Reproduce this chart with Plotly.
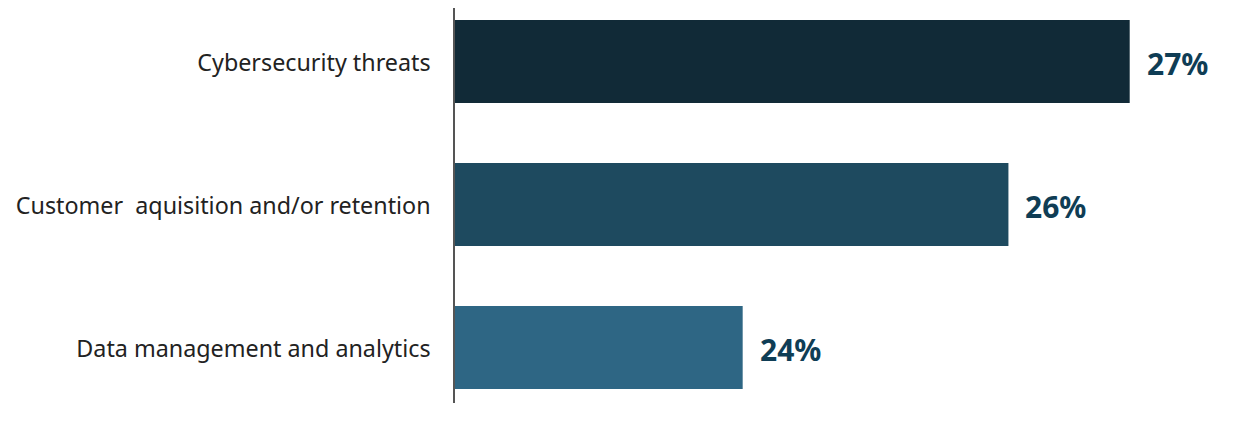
import plotly.graph_objects as go

# datos
categories = ["Cybersecurity threats",
              "Customer  aquisition and/or retention",
              "Data management and analytics"]
values = [27, 26.06, 24]
labels = ["27%", "26%", "24%"]
colors = ["#112a37", "#1e4a5f", "#2e6684"]

fig = go.Figure(go.Bar(
    x=values,
    y=categories,
    orientation="h",
    marker=dict(color=colors, line=dict(width=0)),
    hoverinfo="skip"))

# etiquetas de valor
for v, c, t in zip(values, categories, labels):
    fig.add_annotation(x=v, y=c, text="<b>" + t + "</b>",
                       xanchor="left", xshift=15, yshift=-2, showarrow=False,
                       font=dict(family="Noto Sans", size=30, color="#0f3d55"))

# la pagina deja 8px de margen, por eso el tama침o es 1232x418
fig.update_layout(
    width=1232, height=418,
    margin=dict(l=447, r=20, t=0, b=23),
    plot_bgcolor="white", paper_bgcolor="white",
    showlegend=False,
    bargap=0.42,
    font=dict(family="Noto Sans", size=22, color="#222222"),
)
fig.update_xaxes(range=[21.77, 27.70], visible=False, showgrid=False, zeroline=False)
fig.update_yaxes(range=[2.388, -0.374], showgrid=False, zeroline=False,
                 showline=True, linecolor="#555555", linewidth=1.5,
                 ticks="", ticklabelstandoff=18, ticklabelshift=-1,
                 tickfont=dict(family="Noto Sans", size=23.3, color="#222222"))

fig.write_html("out.html")
